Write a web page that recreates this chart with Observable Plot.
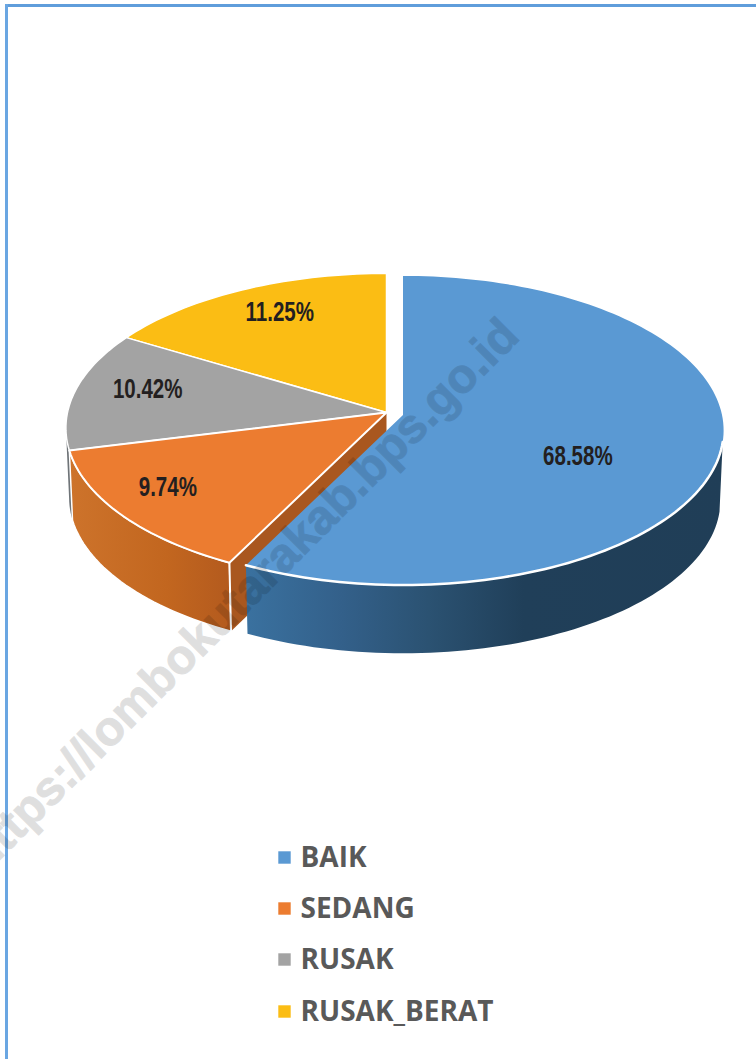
<!DOCTYPE html>
<html>
<head>
<meta charset="utf-8">
<style>html,body{margin:0;padding:0;background:#fff}svg{display:block}</style>
<script src="https://cdn.jsdelivr.net/npm/d3@7"></script>
<script src="https://cdn.jsdelivr.net/npm/@observablehq/plot@0.6"></script>
</head>
<body>
<script>
const categories = ["BAIK", "SEDANG", "RUSAK", "RUSAK_BERAT"];
const printedLabels = ["68.58%", "9.74%", "10.42%", "11.25%"];
// slice sizes as drawn in the picture (they differ from the printed labels)
const drawnShares = [57.4, 13.7, 12.5, 16.4];
const colors = ["#5a99d3", "#ec7c30", "#a3a3a3", "#fbbd14"];
const explodeX = [16.5, 0, 0, 0];
const explodeY = [2.5, 0, 0, 0];
const labelRadius = [0.6, 0.8, 0.775, 0.7];
const labelNudgeX = [-14, -9, 3, -3];
const labelNudgeY = [20, -6, -6, -12];

const W = 756, H = 1059;
const cx = 386, cy = 412, R = 319, Ry = 153, k = 0.1, depth = 70, bottomScale = 0.99;

function project(deg, r, ox, oy, bottom) {
  const a = deg * Math.PI / 180, u = r * Math.sin(a), v = -r * Math.cos(a), w = 1 - k * v;
  const s = bottom ? bottomScale : 1;
  return {x: cx + ox + s * R * u / w, y: cy + oy + (bottom ? depth : 0) + s * Ry * v / w};
}
function arc(a, b, ox, oy, bottom) {
  const n = Math.max(2, Math.ceil(Math.abs(b - a) / 1.5)), out = [];
  for (let i = 0; i <= n; i++) out.push(project(a + (b - a) * i / n, 1, ox, oy, bottom));
  return out;
}
const total = d3.sum(drawnShares);
let acc = 0;
const slices = drawnShares.map((s, i) => {
  const a0 = acc / total * 360; acc += s; const a1 = acc / total * 360;
  return {i, a0, a1, mid: (a0 + a1) / 2, ox: explodeX[i], oy: explodeY[i]};
});
const topFace = s => {
  const c = project(0, 0, s.ox, s.oy, false);
  return [c, ...arc(s.a0, s.a1, s.ox, s.oy, false), c];
};
const sideWall = s => {
  const a = Math.max(s.a0, 100), b = Math.min(s.a1, 264);
  if (a >= b) return null;
  const t = arc(a, b, s.ox, s.oy, false), u = arc(b, a, s.ox, s.oy, true);
  return [...t, ...u, t[0]];
};
const cutFace = s => {
  const c = project(0, 0, s.ox, s.oy, false), c2 = project(0, 0, s.ox, s.oy, true);
  const e = project(s.a0, 1, s.ox, s.oy, false), e2 = project(s.a0, 1, s.ox, s.oy, true);
  return [c, e, e2, c2, c];
};
const poly = (pts, fill, stroke, sw) =>
  Plot.line(pts, {x: "x", y: "y", fill, stroke: stroke || "none", strokeWidth: sw || 0, strokeLinejoin: "round", curve: "linear"});

const sideFill = ["url(#sideBlue)", "url(#sideOrange)", "#6f7478", null];
const [blue, orange, gray, yellow] = slices;

const defs = () => {
  const d = d3.create("svg:defs");
  const grad = (id, x1, x2, stops) => {
    const g = d.append("linearGradient").attr("id", id).attr("gradientUnits", "userSpaceOnUse")
      .attr("x1", x1).attr("x2", x2).attr("y1", 0).attr("y2", 0);
    stops.forEach(([o, c]) => g.append("stop").attr("offset", o).attr("stop-color", c));
  };
  grad("sideBlue", 246, 724, [[0, "#3a719f"], [0.2, "#33608a"], [0.38, "#2b5272"], [0.58, "#203f59"], [1, "#203e57"]]);
  grad("sideOrange", 70, 232, [[0, "#cd732b"], [0.6, "#c2661f"], [1, "#b35a1e"]]);
  return d.node();
};

const labels = slices.map(s => {
  const p = project(s.mid, labelRadius[s.i], s.ox, s.oy, false);
  return {text: printedLabels[s.i], x: p.x + labelNudgeX[s.i], y: p.y + labelNudgeY[s.i]};
});

const legendX = 284, legendTextX = 300, legendY = [858, 909, 960, 1012];
const legendDotY = [857, 908, 959, 1011];
const legend = categories.map((c, i) => ({c, color: colors[i], y: legendY[i], dotY: legendDotY[i]}));

const chart = Plot.plot({
  width: W, height: H, margin: 0,
  x: {domain: [0, W], range: [0, W], axis: null},
  y: {domain: [0, H], range: [0, H], axis: null},
  style: {background: "#fff"},
  marks: [
    defs,
    Plot.ruleY([5], {x1: 5, x2: W, stroke: "#5f9ddb", strokeWidth: 3}),
    Plot.ruleX([6], {y1: 4, y2: H, stroke: "#6aa6e2", strokeWidth: 3}),
    // back to front: gray wall, orange wall and cut, then the top faces
    poly(sideWall(gray), sideFill[2]),
    poly(sideWall(orange), sideFill[1], "#fff", 1.5),
    poly(cutFace(orange), "#a9571f"),
    poly(cutFace(orange).slice(1, 3), "none", "#fff", 2),
    poly(sideWall(blue), sideFill[0]),
    poly(topFace(yellow), colors[3], "#fff", 1.5),
    poly(topFace(gray), colors[2], "#fff", 1.5),
    poly(topFace(orange), colors[1], "#fff", 2),
    poly(topFace(blue), colors[0]),
    poly(arc(blue.a0 + 100, blue.a1, blue.ox, blue.oy, false), "none", "#fff", 2.5),
    Plot.text(labels, {x: "x", y: "y", text: "text", fill: "#231f20", fontSize: 27, fontWeight: 700, className: "pct",
      fontFamily: "'Liberation Sans', sans-serif"}),
    Plot.dot(legend, {x: () => legendX, y: "dotY", fill: "color", symbol: "square", r: 7}),
    Plot.text(legend, {x: () => legendTextX, y: "y", text: "c", textAnchor: "start", fill: "#595959",
      fontSize: 28, fontWeight: 700, fontFamily: "'Open Sans', sans-serif"}),
    Plot.text(["https://lombokutarakab.bps.go.id"], {x: () => 510, y: () => 327, rotate: -45, textAnchor: "end",
      fill: "#000", stroke: "#000", strokeWidth: 1, opacity: 0.12, fontSize: 48, fontWeight: 700, fontFamily: "'Liberation Sans', sans-serif"})
  ]
});
document.body.appendChild(chart);
// the reference's value labels are in a condensed face: squeeze the glyphs to match
d3.select(chart).selectAll(".pct text").each(function () {
  this.setAttribute("textLength", this.getComputedTextLength() * 0.76);
  this.setAttribute("lengthAdjust", "spacingAndGlyphs");
});
</script>
</body>
</html>
